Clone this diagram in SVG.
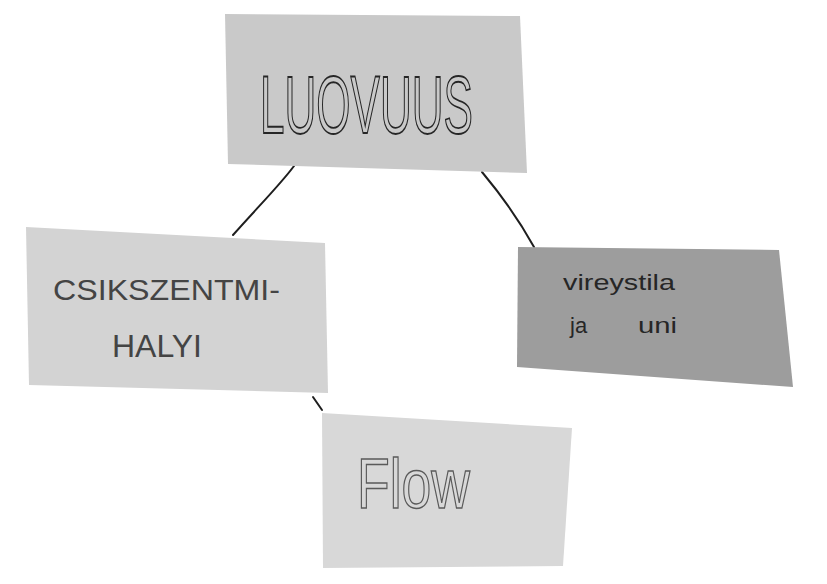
<svg xmlns="http://www.w3.org/2000/svg" width="827" height="584" viewBox="0 0 827 584">
  <style>
    .note { stroke: none; }
    .conn { stroke: #1e1e1e; stroke-width: 2; fill: none; stroke-linecap: round; }
    .hand { font-family: "Liberation Sans", "DejaVu Sans", sans-serif; }
  </style>
  <rect x="0" y="0" width="827" height="584" fill="#ffffff"/>
  <g id="connectors">
    <path class="conn" d="M294,166 C280,185 255,210 233,235"/>
    <path class="conn" d="M482,172 C497,190 518,218 534,247"/>
    <path class="conn" d="M313,397 L322,410"/>
  </g>
  <g id="node-luovuus">
    <polygon class="note" points="225,14 520,16 527,173 228,164" fill="#c9c9c9"/>
    <text class="hand" x="260" y="133" font-size="82" textLength="213" lengthAdjust="spacingAndGlyphs" fill="none" stroke="#262626" stroke-width="1.8">LUOVUUS</text>
  </g>
  <g id="node-csikszentmihalyi">
    <polygon class="note" points="26,227 325,243 328,393 29,385" fill="#d3d3d3"/>
    <text class="hand" x="53" y="300" font-size="30" textLength="227" lengthAdjust="spacingAndGlyphs" fill="#444444">CSIKSZENTMI-</text>
    <text class="hand" x="112" y="357" font-size="31" textLength="90" lengthAdjust="spacingAndGlyphs" fill="#444444">HALYI</text>
  </g>
  <g id="node-vireystila">
    <polygon class="note" points="518,247 779,250 793,387 517,367" fill="#9d9d9d"/>
    <text class="hand" x="563" y="290" font-size="22" textLength="112" lengthAdjust="spacingAndGlyphs" fill="#262626">vireystila</text>
    <text class="hand" x="570" y="333" font-size="22" fill="#262626">ja</text>
    <text class="hand" x="638" y="333" font-size="22" textLength="39" lengthAdjust="spacingAndGlyphs" fill="#262626">uni</text>
  </g>
  <g id="node-flow">
    <polygon class="note" points="322,413 572,428 563,566 323,568" fill="#d8d8d8"/>
    <text class="hand" x="357" y="508" font-size="70" textLength="113" lengthAdjust="spacingAndGlyphs" fill="none" stroke="#5a5a5a" stroke-width="1.5">Flow</text>
  </g>
</svg>
